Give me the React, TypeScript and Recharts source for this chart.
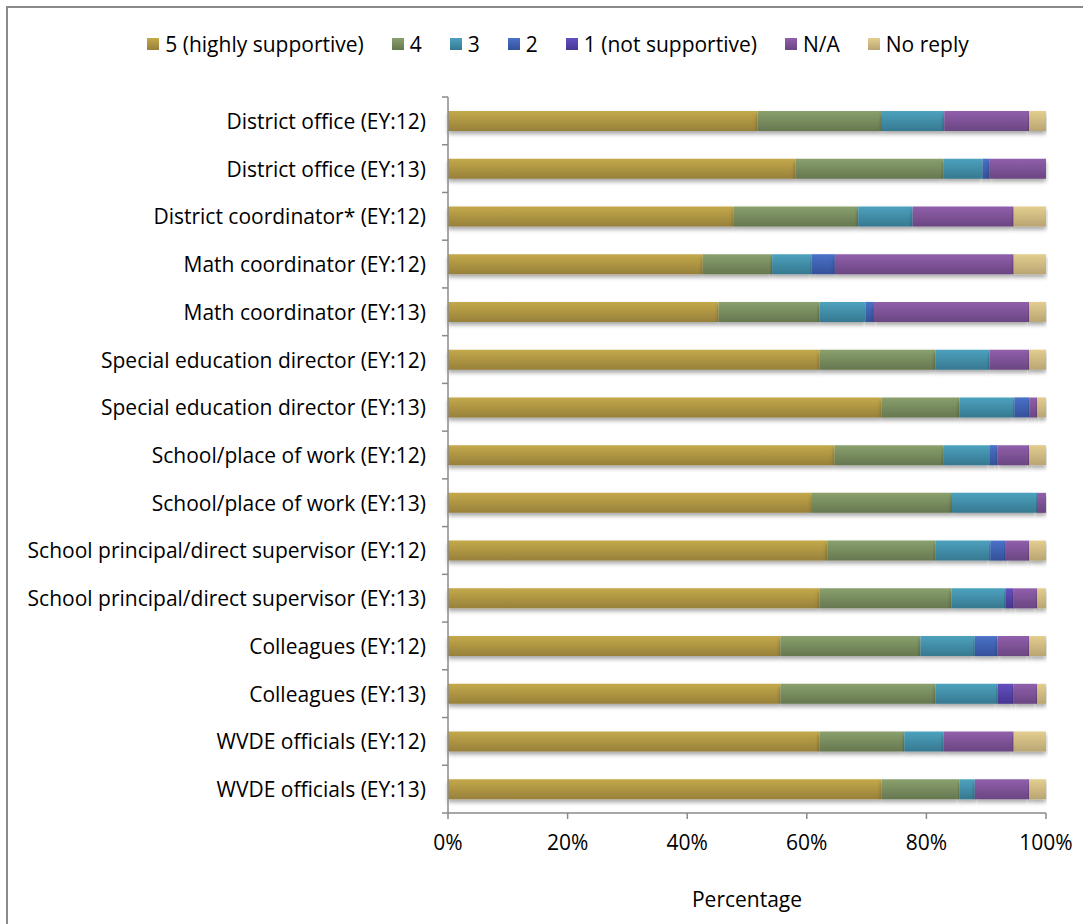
import React from 'react';
import { BarChart, Bar, XAxis, YAxis } from 'recharts';

const categories = [
  'District office (EY:12)',
  'District office (EY:13)',
  'District coordinator* (EY:12)',
  'Math coordinator (EY:12)',
  'Math coordinator (EY:13)',
  'Special education director (EY:12)',
  'Special education director (EY:13)',
  'School/place of work (EY:12)',
  'School/place of work (EY:13)',
  'School principal/direct supervisor (EY:12)',
  'School principal/direct supervisor (EY:13)',
  'Colleagues (EY:12)',
  'Colleagues (EY:13)',
  'WVDE officials (EY:12)',
  'WVDE officials (EY:13)',
];

const s5 = [51.7, 58.1, 47.8, 42.6, 45.3, 62.1, 72.5, 64.7, 60.8, 63.3, 62.1, 55.6, 55.6, 62.1, 72.5];
const s4 = [20.8, 24.8, 20.8, 11.6, 16.9, 19.3, 13.0, 18.3, 23.4, 18.1, 22.1, 23.4, 25.9, 14.2, 13.0];
const s3 = [10.4, 6.5, 9.1, 6.6, 7.7, 9.1, 9.2, 7.7, 14.2, 9.1, 9.0, 9.1, 10.4, 6.6, 2.6];
const s2 = [0, 1.2, 0, 3.9, 1.4, 0, 2.5, 1.3, 0, 2.6, 0, 3.8, 0, 0, 0];
const s1 = [0, 0, 0, 0, 0, 0, 0, 0, 0, 0, 1.4, 0, 2.7, 0, 0];
const na = [14.2, 9.4, 16.9, 29.9, 26.0, 6.6, 1.3, 5.3, 1.5, 3.9, 3.9, 5.3, 3.9, 11.7, 9.1];
const noReply = [2.8, 0, 5.4, 5.4, 2.8, 2.8, 1.5, 2.8, 0, 2.8, 1.5, 2.8, 1.5, 5.4, 2.8];

const xTicks = [0, 0.2, 0.4, 0.6, 0.8, 1];

const series = [
  { key: 'v5', name: '5 (highly supportive)', values: s5, top: '#c4a94a', bottom: '#97803a' },
  { key: 'v4', name: '4', values: s4, top: '#8aa06d', bottom: '#66774f' },
  { key: 'v3', name: '3', values: s3, top: '#4da2be', bottom: '#367890' },
  { key: 'v2', name: '2', values: s2, top: '#4a72c8', bottom: '#34509a' },
  { key: 'v1', name: '1 (not supportive)', values: s1, top: '#644fc0', bottom: '#463690' },
  { key: 'na', name: 'N/A', values: na, top: '#915fab', bottom: '#6a4682' },
  { key: 'nr', name: 'No reply', values: noReply, top: '#e3ce8f', bottom: '#b9a572' },
];

const data = categories.map((name, i) => {
  const row: Record<string, string | number> = { name };
  series.forEach((s) => (row[s.key] = s.values[i]));
  return row;
});

const FONT = '"Open Sans", Lato, sans-serif';
const FS = 21;
const W = 1081;
const H = 916;
const M = { top: 89, right: 43, bottom: 11, left: 0 };
const Y_W = 440;
const X_H = 100;
const plotH = H - M.top - M.bottom - X_H;
const step = plotH / categories.length;
const axisGray = '#8a8a8a';

const YTick = (props: any) => {
  const { x, y, payload, index } = props;
  const ax = x + 22;
  return (
    <g>
      <text x={x} y={y} textAnchor="end" dominantBaseline="central" fontSize={FS} fill="#000" fontFamily={FONT}>
        {payload.value}
      </text>
      <line x1={ax - 6} x2={ax} y1={y - step / 2} y2={y - step / 2} stroke={axisGray} strokeWidth={1.5} />
      {index === categories.length - 1 && (
        <line x1={ax - 6} x2={ax} y1={y + step / 2} y2={y + step / 2} stroke={axisGray} strokeWidth={1.5} />
      )}
    </g>
  );
};

// legend kept in html so it does not push the plot area down
const ChartLegend = () => (
  <div
    style={{
      position: 'absolute',
      top: 22,
      left: 30,
      width: 1040,
      display: 'flex',
      justifyContent: 'center',
      fontFamily: FONT,
      fontSize: FS,
      color: '#000',
      lineHeight: '28px',
    }}
  >
    {series.map((s, i) => (
      <div key={s.key} style={{ display: 'flex', alignItems: 'center', marginLeft: i === 0 ? 0 : 28 }}>
        <span
          style={{
            width: 12,
            height: 12,
            marginRight: 6,
            background: `linear-gradient(${s.top}, ${s.bottom})`,
            display: 'inline-block',
          }}
        />
        <span>{s.name}</span>
      </div>
    ))}
  </div>
);

export default function App() {
  return (
    <>
      <style>{'html,body{overflow:hidden}body{margin:6px}'}</style>
      <div
        style={{
          position: 'relative',
          width: W,
          height: H,
          background: '#fff',
          borderTop: `2px solid ${axisGray}`,
          borderLeft: `2px solid ${axisGray}`,
          overflow: 'hidden',
        }}
      >
        <ChartLegend />
        <BarChart width={W} height={H} data={data} layout="vertical" stackOffset="expand" margin={M}>
          <defs>
            {series.map((s) => (
              <linearGradient key={s.key} id={`g-${s.key}`} x1="0" y1="0" x2="0" y2="1">
                <stop offset="0%" stopColor={s.top} />
                <stop offset="100%" stopColor={s.bottom} />
              </linearGradient>
            ))}
            <filter id="shadow" x="-5%" y="-20%" width="110%" height="160%">
              <feDropShadow dx="0" dy="3" stdDeviation="2.2" floodColor="#000" floodOpacity="0.35" />
            </filter>
          </defs>
          <XAxis
            type="number"
            domain={[0, 1]}
            ticks={xTicks}
            tickFormatter={(v: number) => `${Math.round(v * 100)}%`}
            height={X_H}
            axisLine={{ stroke: axisGray, strokeWidth: 1.5 }}
            tickLine={{ stroke: axisGray, strokeWidth: 1.5 }}
            tickSize={6}
            tickMargin={16}
            tick={{ fontSize: FS, fill: '#000', fontFamily: FONT }}
            label={{ value: 'Percentage', position: 'insideBottom', offset: 6, fontSize: FS, fill: '#000', fontFamily: FONT }}
          />
          <YAxis
            type="category"
            dataKey="name"
            width={Y_W}
            interval={0}
            tickLine={false}
            tickSize={0}
            tickMargin={22}
            axisLine={{ stroke: axisGray, strokeWidth: 1.5 }}
            tick={<YTick />}
          />
          {series.map((s) => (
            <Bar
              key={s.key}
              dataKey={s.key}
              name={s.name}
              stackId="a"
              barSize={20}
              fill={`url(#g-${s.key})`}
              filter="url(#shadow)"
              isAnimationActive={false}
            />
          ))}
        </BarChart>
      </div>
    </>
  );
}
